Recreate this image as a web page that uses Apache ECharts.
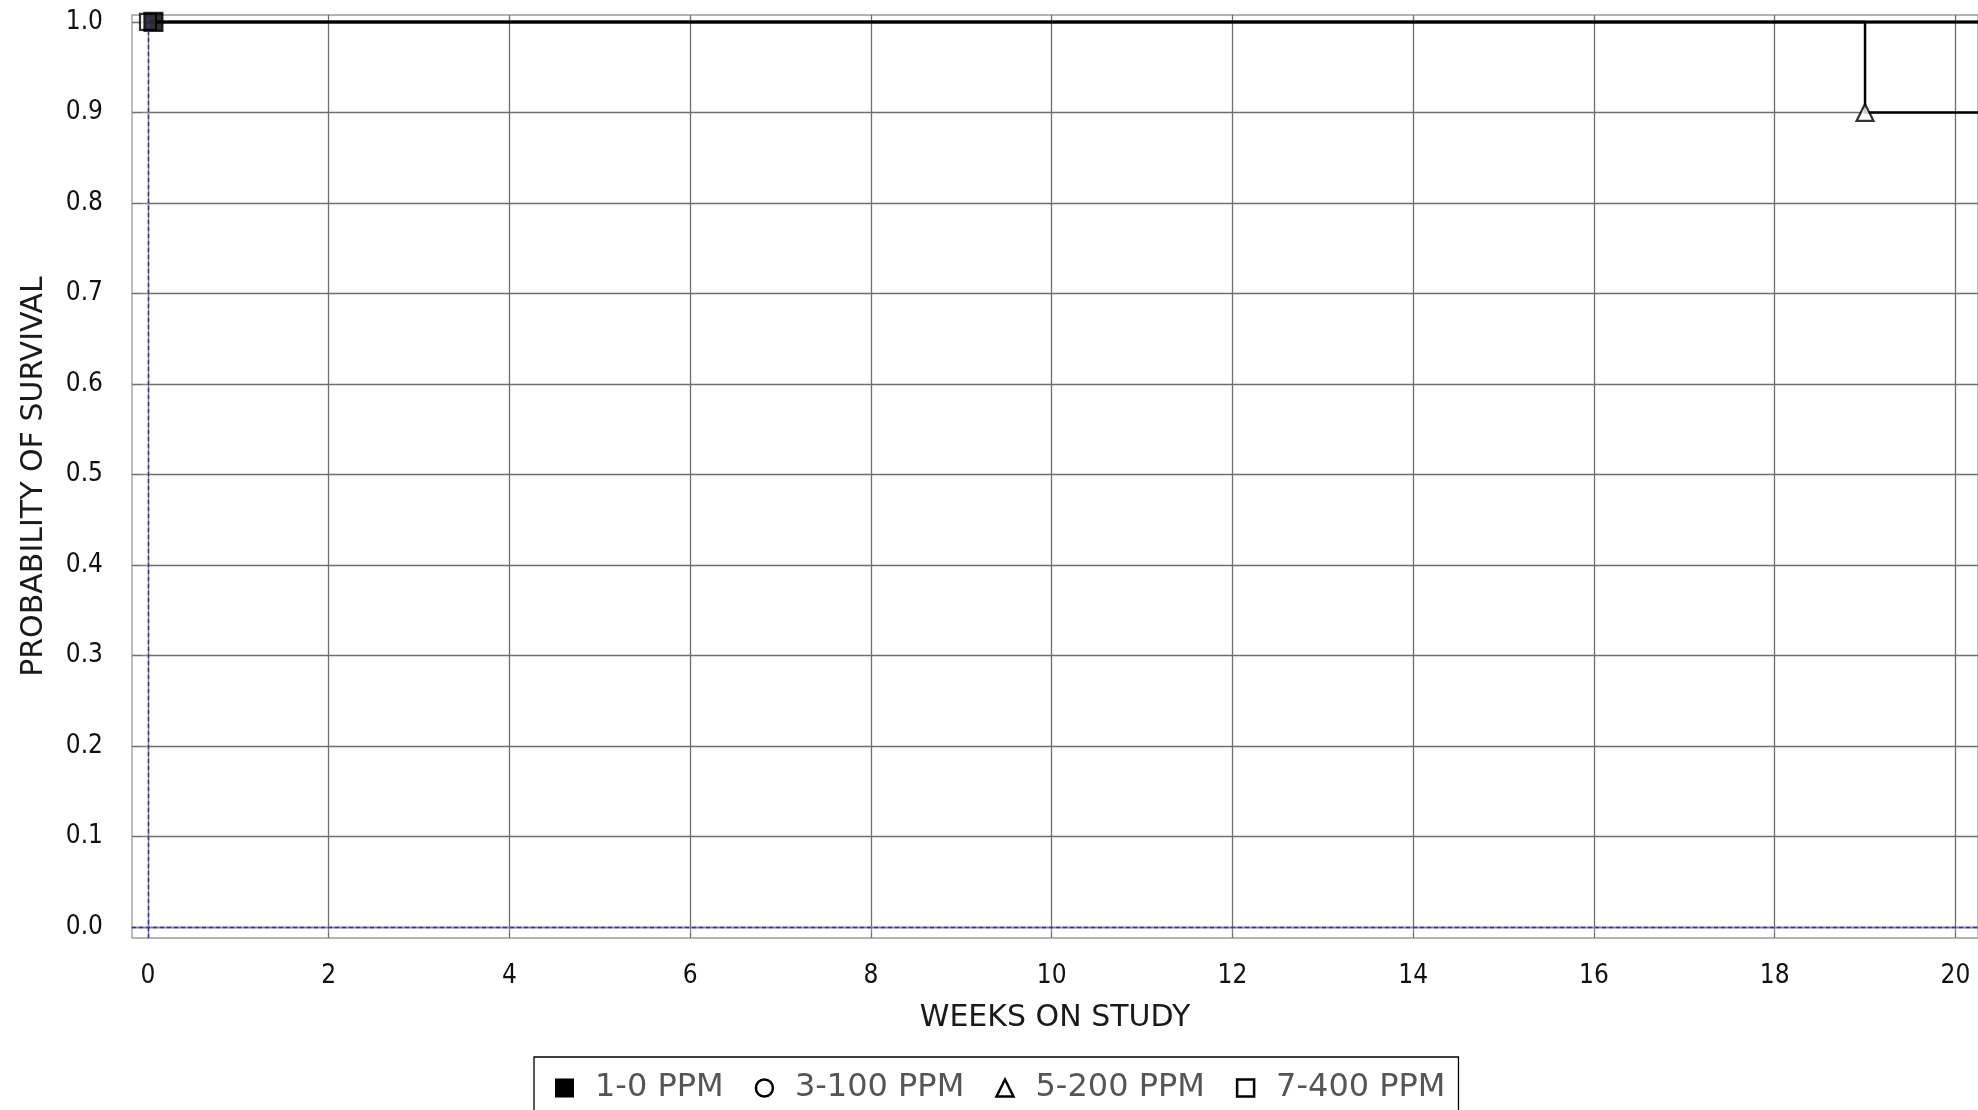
<!DOCTYPE html>
<html>
<head>
<meta charset="utf-8">
<title>Survival</title>
<script src="https://cdn.jsdelivr.net/npm/echarts@6.0.0/dist/echarts.min.js"></script>
<style>
	html, body { margin: 0; padding: 0; background: #fff; }
	#surv { width: 1978px; height: 1110px; }
</style>
</head>
<body>
<div id="surv"></div>
<script>
// groups and their survival steps (weeks, probability)
var groups = [ '1-0 PPM', '3-100 PPM', '5-200 PPM', '7-400 PPM' ];
var curve10 = [ [ 0, 1.0 ], [ 20.25, 1.0 ] ];
var curve3100 = [ [ 0, 1.0 ], [ 20.25, 1.0 ] ];
var curve5200 = [ [ 0, 1.0 ], [ 19, 1.0 ], [ 19, 0.9 ], [ 20.25, 0.9 ] ];
var curve7400 = [ [ 0, 1.0 ], [ 20.25, 1.0 ] ];
// marked events
var marks10 = [ [ 0.06, 1.0 ] ];
var marks3100 = [];
var marks5200 = [ [ 19, 0.9 ] ];
var marks7400 = [ [ 0, 1.0 ] ];
// axis ticks
var weekTicks = [ 0, 2, 4, 6, 8, 10, 12, 14, 16, 18, 20 ];
var probTicks = [ 0.0, 0.1, 0.2, 0.3, 0.4, 0.5, 0.6, 0.7, 0.8, 0.9, 1.0 ];

var tickFont = "'DejaVu Sans Condensed', 'DejaVu Sans', sans-serif";
var nameFont = "'DejaVu Sans', sans-serif";

var myChart = echarts.init(document.getElementById('surv'));

function stepLine(name, data, extra) {
	var s = {
		name : name,
		type : 'line',
		data : data,
		symbol : 'none',
		z : 3,
		lineStyle : {
			color : '#000',
			width : 2.5
		},
		animation : false
	};
	if (extra) {
		for (var k in extra) s[k] = extra[k];
	}
	return s;
}

function marks(name, data, symbol, fill, size) {
	return {
		name : name,
		type : 'scatter',
		data : data,
		symbol : symbol,
		symbolSize : size,
		z : 4,
		itemStyle : {
			color : fill,
			borderColor : '#000',
			borderWidth : 2.2
		},
		animation : false
	};
}

var option = {
	backgroundColor : '#fff',
	grid : {
		left : 132,
		right : 0,
		top : 15,
		bottom : 172,
		show : true,
		borderColor : '#9a9a9a',
		borderWidth : 1.3,
		backgroundColor : '#fff'
	},
	legend : {
		left : 534,
		top : 1057,
		orient : 'horizontal',
		padding : [ 15, 13, 14, 21 ],
		itemGap : 31,
		itemWidth : 17,
		itemHeight : 17,
		borderColor : '#000',
		borderWidth : 1.3,
		textStyle : {
			fontFamily : nameFont,
			fontSize : 32,
			color : '#555',
			padding : [ 0, 0, 0, 17 ]
		},
		data : groups
	},
	xAxis : {
		type : 'value',
		min : -0.177,
		max : 20.25,
		offset : 10,
		name : 'WEEKS ON STUDY',
		nameLocation : 'middle',
		nameGap : 55,
		nameTextStyle : {
			fontFamily : nameFont,
			fontSize : 30,
			color : '#1a1a1a'
		},
		axisLine : {
			lineStyle : {
				color : '#888',
				width : 1.3
			}
		},
		axisTick : {
			length : 6,
			customValues : weekTicks,
			lineStyle : {
				color : '#888'
			}
		},
		axisLabel : {
			customValues : weekTicks,
			margin : 15,
			fontFamily : tickFont,
			fontSize : 26,
			color : '#111'
		},
		splitLine : {
			show : true,
			lineStyle : {
				color : '#6e6e6e',
				width : 1.3
			}
		}
	},
	yAxis : {
		type : 'value',
		min : -0.0122,
		max : 1.0077,
		offset : 11,
		name : 'PROBABILITY OF SURVIVAL',
		nameLocation : 'middle',
		nameGap : 72,
		nameTextStyle : {
			fontFamily : nameFont,
			fontSize : 30,
			color : '#1a1a1a'
		},
		axisLine : {
			show : true,
			lineStyle : {
				color : '#888',
				width : 1.3
			}
		},
		axisTick : {
			show : true,
			length : 6,
			customValues : probTicks,
			lineStyle : {
				color : '#888'
			}
		},
		axisLabel : {
			customValues : probTicks,
			margin : 18,
			fontFamily : tickFont,
			fontSize : 26,
			color : '#111',
			formatter : function(v) {
				return v.toFixed(1);
			}
		},
		splitLine : {
			show : true,
			lineStyle : {
				color : '#6e6e6e',
				width : 1.3
			}
		}
	},
	series : [
		stepLine('1-0 PPM', curve10, {
			markLine : {
				silent : true,
				symbol : 'none',
				label : { show : false },
				lineStyle : {
					color : '#2f2fd0',
					type : [ 4, 3 ],
					width : 1.4
				},
				data : [ { xAxis : 0 }, { yAxis : 0 } ],
				animation : false
			}
		}),
		stepLine('3-100 PPM', curve3100),
		stepLine('5-200 PPM', curve5200),
		stepLine('7-400 PPM', curve7400),
		marks('7-400 PPM', marks7400, 'rect', '#fff', 16),
		marks('1-0 PPM', marks10, 'rect', '#000', 18),
		marks('3-100 PPM', marks3100, 'circle', '#fff', 16),
		marks('5-200 PPM', marks5200, 'triangle', '#fff', 17)
	]
};
// legend icons follow the marks, not the lines
option.legend.data = [
	{ name : '1-0 PPM', icon : 'rect', itemStyle : { color : '#000', borderColor : '#000', borderWidth : 2 } },
	{ name : '3-100 PPM', icon : 'circle', itemStyle : { color : '#fff', borderColor : '#000', borderWidth : 2.5 } },
	{ name : '5-200 PPM', icon : 'triangle', itemStyle : { color : '#fff', borderColor : '#000', borderWidth : 2.5 } },
	{ name : '7-400 PPM', icon : 'rect', itemStyle : { color : '#fff', borderColor : '#000', borderWidth : 2.5 } }
];
myChart.setOption(option);
</script>
</body>
</html>
